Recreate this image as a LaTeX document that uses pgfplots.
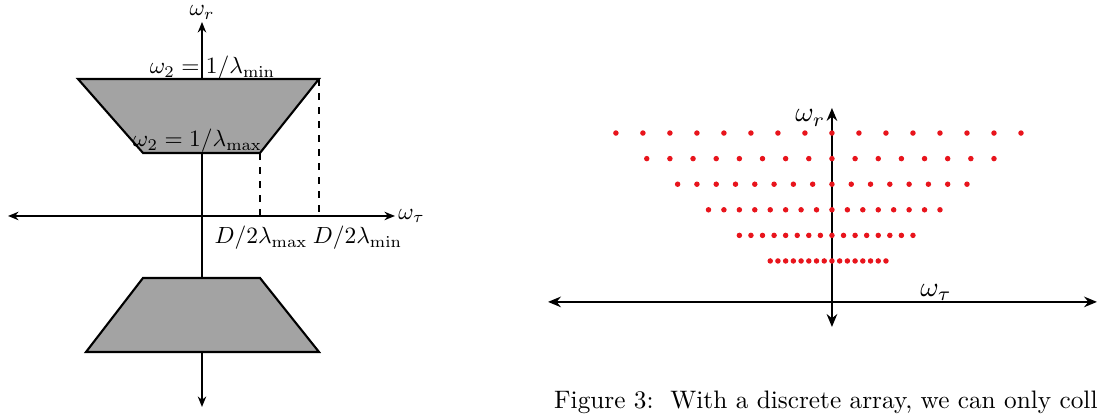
\documentclass[border=0pt]{standalone}
\usepackage{pgfplots}
\pgfplotsset{compat=1.18}
\usetikzlibrary{arrows.meta}
\definecolor{trapgray}{RGB}{163,163,163}
\definecolor{dotred}{RGB}{232,20,28}

% Discrete sampling positions: omega_tau position and row level
\pgfplotstableread{
x y
-56 6
-49 6
-42 6
-35 6
-28 6
-21 6
-14 6
-7 6
0 6
7 6
14 6
21 6
28 6
35 6
42 6
49 6
-48 5
-42 5
-36 5
-30 5
-24 5
-18 5
-12 5
-6 5
0 5
6 5
12 5
18 5
24 5
30 5
36 5
42 5
-40 4
-35 4
-30 4
-25 4
-20 4
-15 4
-10 4
-5 4
0 4
5 4
10 4
15 4
20 4
25 4
30 4
35 4
-32 3
-28 3
-24 3
-20 3
-16 3
-12 3
-8 3
-4 3
0 3
4 3
8 3
12 3
16 3
20 3
24 3
28 3
-24 2
-21 2
-18 2
-15 2
-12 2
-9 2
-6 2
-3 2
0 2
3 2
6 2
9 2
12 2
15 2
18 2
21 2
-16 1
-14 1
-12 1
-10 1
-8 1
-6 1
-4 1
-2 1
0 1
2 1
4 1
6 1
8 1
10 1
12 1
14 1
}\samples

\begin{document}
\begin{tikzpicture}[x=0.42743pt,y=0.42743pt]
\path[use as bounding box] (0,0) rectangle (1099,414);

% Continuous coverage: two trapezoids in the (omega_tau, omega_r) plane
\begin{axis}[at={(0pt,0pt)}, anchor=south west, scale only axis,
  width=179.52pt, height=176.96pt,
  xmin=-202, xmax=218, ymin=-198, ymax=216,
  axis lines=none, clip=false]
  \addplot[{Stealth[length=4.5pt,width=3.6pt]}-{Stealth[length=4.5pt,width=3.6pt]}, line width=0.9pt]
    coordinates {(-194,0) (193,0)};
  \addplot[{Stealth[length=4.5pt,width=3.6pt]}-{Stealth[length=4.5pt,width=3.6pt]}, line width=0.9pt]
    coordinates {(0,-191) (0,194)};
  \addplot[dashed, line width=0.8pt] coordinates {(58,63) (58,0)};
  \addplot[dashed, line width=0.8pt] coordinates {(117,137) (117,0)};
  \addplot[fill=trapgray, draw=black, line width=0.9pt]
    coordinates {(-124,137) (117,137) (58,63) (-59,63)} -- cycle;
  \addplot[fill=trapgray, draw=black, line width=0.9pt]
    coordinates {(-59,-62) (58,-62) (117,-136) (-116,-136)} -- cycle;
  \node[anchor=base, inner sep=0] at (axis cs:0,200) {$\omega_r$};
  \node[anchor=west, inner sep=0] at (axis cs:196,0) {$\omega_\tau$};
  \node[anchor=base, inner sep=0] at (axis cs:10.5,142) {$\omega_2 = 1/\lambda_{\min}$};
  \node[anchor=base, inner sep=0] at (axis cs:-4.5,69) {$\omega_2 = 1/\lambda_{\max}$};
  \node[anchor=base, inner sep=0] at (axis cs:59,-28) {$D/2\lambda_{\max}$};
  \node[anchor=base, inner sep=0] at (axis cs:155.5,-28) {$D/2\lambda_{\min}$};
\end{axis}

% Discrete array: sampled points
\begin{axis}[at={(234.23pt,37.19pt)}, anchor=south west, scale only axis,
  width=234.66pt, height=93.61pt,
  xmin=-73.6, xmax=68.7, ymin=-1.58, ymax=6.98,
  axis lines=none, clip=false]
  \addplot[only marks, mark=*, mark size=0.95pt, color=dotred] table[x=x, y=y] {\samples};
  \addplot[{Stealth[length=5.5pt,width=4.5pt]}-{Stealth[length=5.5pt,width=4.5pt]}, line width=1.2pt]
    coordinates {(-73.6,-0.6) (68.7,-0.6)};
  \addplot[{Stealth[length=5.5pt,width=4.5pt]}-{Stealth[length=5.5pt,width=4.5pt]}, line width=1.2pt]
    coordinates {(0,-1.58) (0,6.98)};
  \node[anchor=east, inner sep=0, scale=1.2] at (axis cs:-1.6,6.59) {$\omega_r$};
  \node[anchor=base west, inner sep=0, scale=1.2] at (axis cs:22.8,-0.4) {$\omega_\tau$};
\end{axis}

\node[anchor=base east, inner sep=0] at (1098,5)
  {\fontsize{10.8}{13}\selectfont Figure 3:\ \ With a discrete array, we can only coll};
\end{tikzpicture}
\end{document}
